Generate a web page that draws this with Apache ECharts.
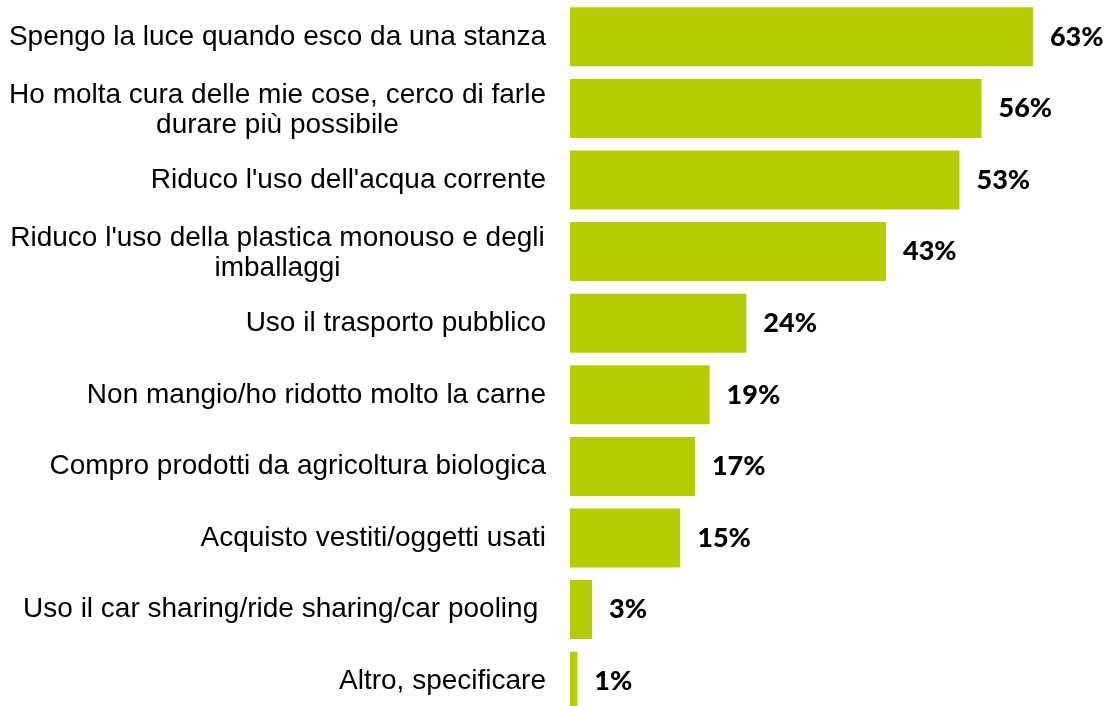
<!DOCTYPE html>
<html>
<head>
<meta charset="utf-8">
<script src="https://cdn.jsdelivr.net/npm/echarts@6/dist/echarts.min.js"></script>
<style>
  html, body { margin: 0; padding: 0; background: #fff; }
  #chart { width: 1111px; height: 706px; }
</style>
</head>
<body>
<div id="chart"></div>
<script>
// categories, top to bottom (line breaks as in the original)
const categories = [
  "Spengo la luce quando esco da una stanza",
  "Ho molta cura delle mie cose, cerco di farle\ndurare più possibile",
  "Riduco l'uso dell'acqua corrente",
  "Riduco l'uso della plastica monouso e degli\nimballaggi",
  "Uso il trasporto pubblico",
  "Non mangio/ho ridotto molto la carne",
  "Compro prodotti da agricoltura biologica",
  "Acquisto vestiti/oggetti usati",
  "Uso il car sharing/ride sharing/car pooling ",
  "Altro, specificare"
];
// percentages
const values = [63, 56, 53, 43, 24, 19, 17, 15, 3, 1];

const labelFamily = "'Liberation Sans', Arial, sans-serif";
const labelSize = 28;

// measure text so wrapped lines can be centred inside the label block
const ctx = document.createElement("canvas").getContext("2d");
ctx.font = labelSize + "px " + labelFamily;
function textWidth(s) {
  return ctx.measureText(s).width;
}
const wrapWidth = Math.ceil(Math.max.apply(null, categories
  .filter(c => c.indexOf("\n") >= 0)
  .map(c => Math.max.apply(null, c.split("\n").map(textWidth)))));

const chart = echarts.init(document.getElementById("chart"));

const option = {
  animation: false,
  grid: {
    left: 570,
    top: 1,
    width: 514.4,
    height: 716,
    containLabel: false,
    outerBoundsMode: "none"
  },
  xAxis: {
    type: "value",
    min: 0,
    max: 70,
    show: false
  },
  yAxis: {
    type: "category",
    inverse: true,
    data: categories,
    axisLine: { show: false },
    axisTick: { show: false },
    splitLine: { show: false },
    axisLabel: {
      margin: 24,
      color: "#000",
      fontFamily: labelFamily,
      fontSize: labelSize,
      lineHeight: 30,
      interval: 0,
      formatter: function(value) {
        const lines = value.split("\n");
        if (lines.length === 1) return value;
        // every line gets the same box width, text centred in it
        return lines.map(l => "{c|" + l + "}").join("\n");
      },
      rich: {
        c: {
          fontFamily: labelFamily,
          fontSize: labelSize,
          lineHeight: 30,
          color: "#000",
          align: "center",
          width: wrapWidth,
          padding: [3, 0, 0, 0]
        }
      }
    }
  },
  series: [
    {
      type: "bar",
      data: values,
      barWidth: 59,
      itemStyle: { color: "#b5cc04" },
      label: {
        show: true,
        position: "right",
        distance: 17,
        formatter: "{c}%",
        color: "#000",
        fontFamily: "Lato, 'Noto Sans', sans-serif",
        fontWeight: 900,
        fontSize: 27
      }
    }
  ]
};

chart.setOption(option);
</script>
</body>
</html>
